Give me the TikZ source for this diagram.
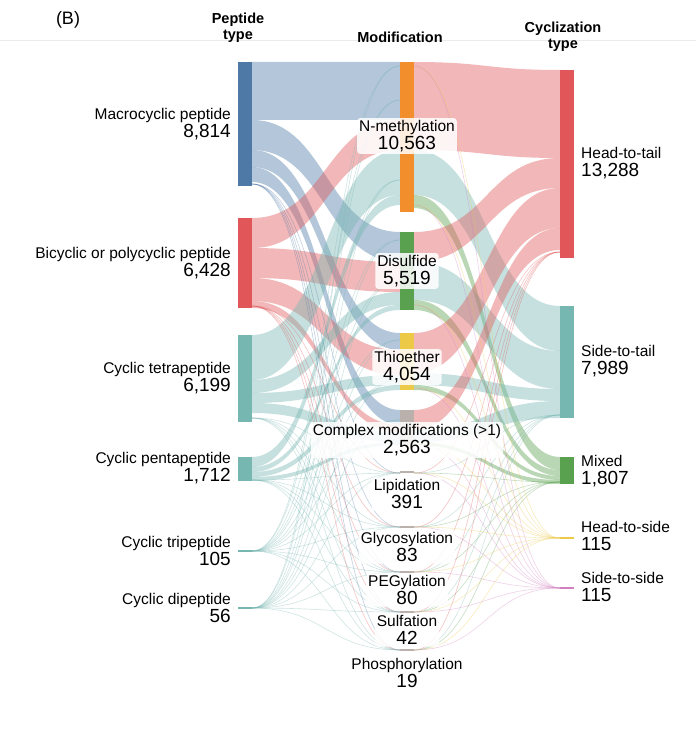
\documentclass[tikz,border=0pt]{standalone}
\usepackage{fontspec}
\setmainfont{Liberation Sans}
\begin{document}
\begin{tikzpicture}[x=1pt,y=-1pt,
  lab/.style={font=\fontsize{15.5}{18}\selectfont,align=center,inner sep=1pt},
  labl/.style={lab,anchor=east,align=right},
  labr/.style={lab,anchor=west,align=left},
  mlab/.style={lab,fill=white,fill opacity=.85,text opacity=1,rounded corners=3pt,inner sep=2pt},
  hd/.style={font=\bfseries\fontsize{14.5}{16}\selectfont,align=center},
  bar/.style={draw=none},
  thin/.style={opacity=.35,line width=.6pt}]
\definecolor{cb}{HTML}{4E79A7}\definecolor{cr}{HTML}{E15759}\definecolor{ct}{HTML}{76B7B2}
\definecolor{co}{HTML}{F28E2B}\definecolor{cg}{HTML}{59A14F}\definecolor{cy}{HTML}{EDC948}
\definecolor{cp}{HTML}{D37FC0}\definecolor{cgr}{HTML}{BAB0AC}
\newcommand\band[7]{\fill[#7,opacity=.42] (#1,#2) .. controls ({(#1+#4)/2},#2) and ({(#1+#4)/2},#5) .. (#4,#5) -- (#4,#6) .. controls ({(#1+#4)/2},#6) and ({(#1+#4)/2},#3) .. (#1,#3) -- cycle;}
\newcommand\tl[5]{\draw[#5,thin] (#1,#2) .. controls ({(#1+#3)/2},#2) and ({(#1+#3)/2},#4) .. (#3,#4);}
\newcommand\num[1]{{\fontsize{19}{21}\selectfont #1}}
\useasboundingbox (0,0) rectangle (696,738);
\fill[white] (0,0) rectangle (696,738);
\draw[black!8] (0,40) -- (696,40);
% left -> middle
\band{252}{62}{120}{400}{62}{120}{cb}
\band{252}{120}{150}{400}{232}{262}{cb}
\band{252}{150}{167}{400}{333}{350}{cb}
\band{252}{167}{182}{400}{410}{425}{cb}
\band{252}{218}{248}{400}{120}{150}{cr}
\band{252}{248}{278}{400}{262}{292}{cr}
\band{252}{278}{301}{400}{350}{375}{cr}
\band{252}{301}{308}{400}{425}{432}{cr}
\band{252}{335}{380}{400}{150}{195}{ct}
\band{252}{380}{393}{400}{292}{305}{ct}
\band{252}{393}{403}{400}{375}{385}{ct}
\band{252}{403}{413}{400}{432}{442}{ct}
\band{252}{457}{467}{400}{195}{205}{ct}
\band{252}{467}{472}{400}{305}{310}{ct}
\band{252}{472}{477}{400}{385}{390}{ct}
\band{252}{477}{481}{400}{442}{445}{ct}
% middle -> right
\band{414}{62}{150}{560}{70}{158}{cr}
\band{414}{150}{195}{560}{306}{351}{ct}
\band{414}{195}{208}{560}{457}{470}{cg}
\band{414}{232}{262}{560}{158}{188}{cr}
\band{414}{262}{300}{560}{351}{389}{ct}
\band{414}{300}{310}{560}{470}{476}{cg}
\band{414}{333}{373}{560}{188}{228}{cr}
\band{414}{373}{385}{560}{389}{401}{ct}
\band{414}{385}{390}{560}{476}{480}{cg}
\band{414}{410}{430}{560}{228}{250}{cr}
\band{414}{430}{442}{560}{401}{418}{ct}
\band{414}{442}{445}{560}{480}{484}{cg}
% thin flows
\foreach \m in {66,100,180,240,280,340,380,420,473,527,572,612,650} {
  \tl{252}{551}{400}{\m}{ct}
  \tl{252}{608}{400}{\m}{ct}}
\foreach \m in {473,527,572,612,650} {
  \tl{252}{184}{400}{\m}{cb}
  \tl{252}{306}{400}{\m}{cr}
  \tl{252}{418}{400}{\m}{ct}
  \tl{252}{480}{400}{\m}{ct}
  \tl{414}{\m}{560}{252}{cr}
  \tl{414}{\m}{560}{415}{ct}
  \tl{414}{\m}{560}{482}{cg}}
\foreach \m in {66,205,305,388,444,473,527,572,612,650} {
  \tl{414}{\m}{560}{538}{cy}
  \tl{414}{\m}{560}{588}{cp}}
% bars
\fill[cb] (238,62) rectangle (252,186);
\fill[cr] (238,218) rectangle (252,308);
\fill[ct] (238,335) rectangle (252,422);
\fill[ct] (238,457) rectangle (252,481);
\fill[ct] (238,550) rectangle (252,552);
\fill[ct] (238,607) rectangle (252,609);
\fill[co] (400,62) rectangle (414,212);
\fill[cg] (400,232) rectangle (414,310);
\fill[cy] (400,333) rectangle (414,390);
\fill[cgr] (400,410) rectangle (414,445);
\foreach \m in {472,527,572,612,650} \fill[cgr] (400,\m-1) rectangle (414,\m+1);
\fill[cr] (560,70) rectangle (574,258);
\fill[ct] (560,306) rectangle (574,418);
\fill[cg] (560,457) rectangle (574,484);
\fill[cy] (560,537) rectangle (574,539);
\fill[cp] (560,587) rectangle (574,589);
% headers
\node[font=\fontsize{18}{20}\selectfont] (hB) at (68,20) {(B)};
\node[hd] (h1) at (238,28) {Peptide\\type};
\node[hd] (h2) at (400,37) {Modification};
\node[hd] (h3) at (563,37) {Cyclization\\type};
% left labels
\node[labl] (l1) at (232,124) {Macrocyclic peptide\\\num{8,814}};
\node[labl] (l2) at (232,263) {Bicyclic or polycyclic peptide\\\num{6,428}};
\node[labl] (l3) at (232,378) {Cyclic tetrapeptide\\\num{6,199}};
\node[labl] (l4) at (232,468) {Cyclic pentapeptide\\\num{1,712}};
\node[labl] (l5) at (232,551) {Cyclic tripeptide\\\num{105}};
\node[labl] (l6) at (232,608) {Cyclic dipeptide\\\num{56}};
% middle labels
\node[mlab] (m1) at (407,136) {N-methylation\\\num{10,563}};
\node[mlab] (m2) at (407,271) {Disulfide\\\num{5,519}};
\node[mlab] (m3) at (407,367) {Thioether\\\num{4,054}};
\node[mlab] (m4) at (407,440) {Complex modifications (>1)\\\num{2,563}};
\node[mlab] (m5) at (407,494) {Lipidation\\\num{391}};
\node[mlab] (m6) at (407,547) {Glycosylation\\\num{83}};
\node[mlab] (m7) at (407,590) {PEGylation\\\num{80}};
\node[mlab] (m8) at (407,630) {Sulfation\\\num{42}};
\node[mlab] (m9) at (407,673) {Phosphorylation\\\num{19}};
% right labels
\node[labr] (r1) at (580,163) {Head-to-tail\\\num{13,288}};
\node[labr] (r2) at (580,361) {Side-to-tail\\\num{7,989}};
\node[labr] (r3) at (580,471) {Mixed\\\num{1,807}};
\node[labr] (r4) at (580,536) {Head-to-side\\\num{115}};
\node[labr] (r5) at (580,587) {Side-to-side\\\num{115}};
\end{tikzpicture}
\end{document}
